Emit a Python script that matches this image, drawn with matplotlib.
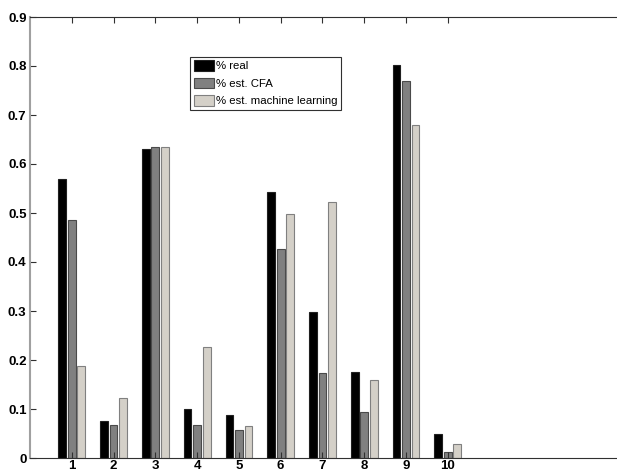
import matplotlib.pyplot as plt
import numpy as np

plt.rcParams['font.family'] = ['Liberation Sans', 'DejaVu Sans']

# data
cats = [1, 2, 3, 4, 5, 6, 7, 8, 9, 10]
real = [0.569, 0.075, 0.630, 0.100, 0.088, 0.543, 0.297, 0.175, 0.803, 0.050]
est_cfa = [0.485, 0.067, 0.635, 0.067, 0.058, 0.427, 0.173, 0.093, 0.769, 0.012]
est_ml = [0.188, 0.123, 0.634, 0.227, 0.065, 0.498, 0.522, 0.160, 0.679, 0.028]
labels = ['% real', '% est. CFA', '% est. machine learning']
colors = ['#000000', '#808080', '#d4d0c8']
edges = ['#202020', '#4a4a4a', '#808080']

fig = plt.figure(figsize=(6.17, 4.73), dpi=100)
ax = fig.add_axes([30/617, 15/473, 587/617, 441/473])

x = np.array(cats)
step = 0.228
width = 0.185
for i, vals in enumerate([real, est_cfa, est_ml]):
    ax.bar(x + (i - 1)*step, vals, width, color=colors[i], edgecolor=edges[i],
           linewidth=0.8, label=labels[i])

ax.set_xlim(0, 14.05)
ax.set_ylim(0, 0.9)
ax.set_xticks(cats)
ax.set_yticks(np.arange(0, 0.91, 0.1))
ax.set_yticklabels(['0'] + ['%.1f' % v for v in np.arange(0.1, 0.91, 0.1)])

ax.tick_params(direction='in', length=4, width=0.8, labelsize=9.5, top=True,
               colors='#303030', labelcolor='black')
ax.tick_params(axis='x', pad=1.5)
ax.tick_params(axis='y', pad=2.5)
for lab in ax.get_xticklabels() + ax.get_yticklabels():
    lab.set_fontweight('bold')

ax.spines['left'].set_color('#a0a0a0')
ax.spines['left'].set_linewidth(1.5)
ax.spines['bottom'].set_color('#303030')
ax.spines['top'].set_color('#303030')
ax.spines['right'].set_visible(False)

leg = ax.legend(loc='upper left', bbox_to_anchor=(0.273, 0.91), fontsize=8.2,
                frameon=True, fancybox=False, framealpha=1, borderpad=0.3,
                labelspacing=0.55, handlelength=1.8, handleheight=1.05,
                handletextpad=0.2, borderaxespad=0)
leg.get_frame().set_edgecolor('#303030')
leg.get_frame().set_linewidth(0.8)

fig.savefig('out.png', dpi=100)
